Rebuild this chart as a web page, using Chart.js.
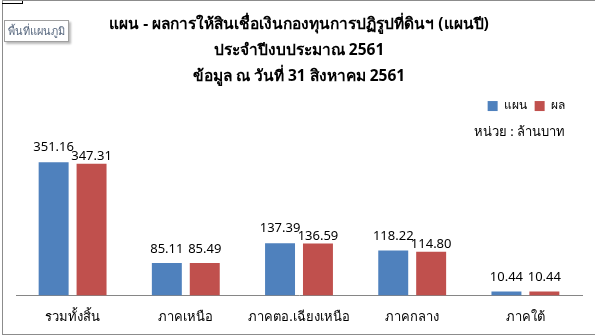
<!DOCTYPE html>
<html lang="th">
<head>
  <meta charset="UTF-8">
  <title>แผน - ผลการให้สินเชื่อ</title>
  <style>
    body {
      margin: 0;
      background: #fff;
      font-family: Tahoma, "Noto Sans", "DejaVu Sans", sans-serif;
    }
    #frame {
      position: relative;
      width: 595px;
      height: 335px;
      overflow: hidden;
    }
    #border {
      position: absolute;
      left: 2px;
      top: 0;
      width: 600px;
      height: 333px;
      border-top: 1px solid #8c8c8c;
      border-left: 1px solid #8c8c8c;
      border-bottom: 1px solid #8c8c8c;
    }
    #corner {
      position: absolute;
      left: 2px;
      top: 1px;
      width: 20px;
      height: 2px;
      border-bottom: 1px solid #000;
      border-right: 1px solid #000;
    }
    #tag {
      position: absolute;
      left: 4px;
      top: 20px;
      padding: 1px 3px;
      font-size: 11px;
      color: #5a6a80;
      background: #fff;
      border: 1px solid #a0a0a0;
      box-shadow: 2px 2px 2px #bbb;
    }
    #unit {
      position: absolute;
      right: 30px;
      top: 121px;
      font-size: 13px;
      color: #000;
    }
    canvas {
      position: absolute;
      left: 0;
      top: 0;
    }
  </style>
  <script src="https://cdn.jsdelivr.net/npm/chart.js"></script>
</head>
<body>
  <div id="frame">
    <canvas id="landChart" width="595" height="335"></canvas>
    <div id="border"></div>
    <div id="corner"></div>
    <div id="tag">พื้นที่แผนภูมิ</div>
    <div id="unit">หน่วย : ล้านบาท</div>
  </div>

  <script>
    const regions = ['รวมทั้งสิ้น', 'ภาคเหนือ', 'ภาคตอ.เฉียงเหนือ', 'ภาคกลาง', 'ภาคใต้'];
    const planValues = [351.16, 85.11, 137.39, 118.22, 10.44];
    const resultValues = [347.31, 85.49, 136.59, 114.80, 10.44];
    const titleLines = [
      'แผน - ผลการให้สินเชื่อเงินกองทุนการปฏิรูปที่ดินฯ (แผนปี)',
      'ประจำปีงบประมาณ 2561',
      'ข้อมูล ณ วันที่ 31 สิงหาคม 2561'
    ];

    const fontFamily = 'Tahoma, "Noto Sans", "DejaVu Sans", sans-serif';

    // numbers above the bars; when the two labels of a group collide,
    // the blue one goes a bit higher and the red one sits closer to its bar
    const valueLabels = {
      id: 'valueLabels',
      afterDatasetsDraw(chart) {
        const ctx = chart.ctx;
        ctx.save();
        ctx.font = '13px ' + fontFamily;
        ctx.fillStyle = '#000';
        ctx.textAlign = 'center';
        ctx.textBaseline = 'alphabetic';
        const planBars = chart.getDatasetMeta(0).data;
        const resultBars = chart.getDatasetMeta(1).data;
        planBars.forEach((bar, j) => {
          const a = planValues[j].toFixed(2);
          const b = resultValues[j].toFixed(2);
          const red = resultBars[j];
          const clash = (ctx.measureText(a).width + ctx.measureText(b).width) / 2 > red.x - bar.x - 2;
          ctx.fillText(a, bar.x, bar.y - (clash ? 11 : 10));
          ctx.fillText(b, red.x, red.y - (clash ? 4 : 10));
        });
        ctx.restore();
      }
    };

    new Chart(document.getElementById('landChart'), {
      type: 'bar',
      data: {
        labels: regions,
        datasets: [
          {
            label: 'แผน',
            data: planValues,
            backgroundColor: '#4f81bd'
          },
          {
            label: 'ผล',
            data: resultValues,
            backgroundColor: '#c0504d'
          }
        ]
      },
      options: {
        responsive: false,
        animation: false,
        categoryPercentage: 0.67,
        barPercentage: 0.79,
        layout: {
          padding: { left: 16, right: 13, top: 6, bottom: -4 }
        },
        plugins: {
          title: {
            display: true,
            text: titleLines,
            color: '#000',
            font: { family: fontFamily, size: 15.5, weight: 'bold', lineHeight: 1.7 },
            padding: { top: 5, bottom: 2 }
          },
          legend: {
            position: 'top',
            align: 'end',
            labels: {
              color: '#000',
              boxWidth: 10,
              boxHeight: 10,
              padding: 8,
              font: { family: fontFamily, size: 12 },
              generateLabels(chart) {
                const items = Chart.defaults.plugins.legend.labels.generateLabels(chart);
                // keep the legend clear of the right edge, as in the original
                items[items.length - 1].text += '\u00a0\u00a0\u00a0';
                return items;
              }
            }
          },
          tooltip: { enabled: false }
        },
        scales: {
          x: {
            grid: { display: false, drawTicks: false },
            border: { color: '#868686' },
            ticks: {
              color: '#000',
              padding: 14,
              maxRotation: 0,
              autoSkip: false,
              font: { family: fontFamily, size: 13 }
            }
          },
          y: {
            display: false,
            min: 0,
            max: 457
          }
        }
      },
      plugins: [valueLabels]
    });
  </script>
</body>
</html>
